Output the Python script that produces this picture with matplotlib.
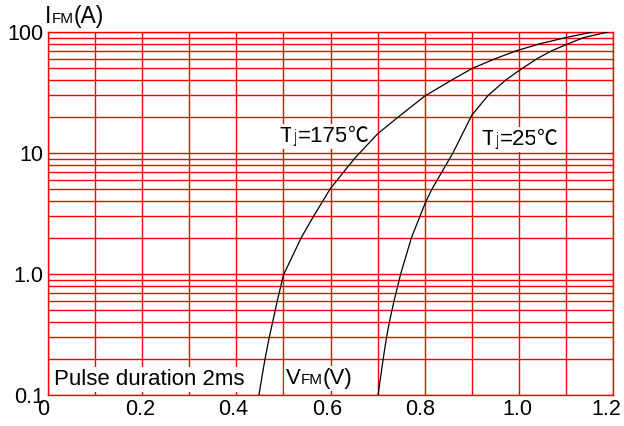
"""
Forward characteristic chart: IFM vs VFM at two junction temperatures.
"""

import matplotlib
matplotlib.use("Agg")
import matplotlib.pyplot as plt
import matplotlib.transforms as mtransforms
import numpy as np
from matplotlib.ticker import LogLocator, NullFormatter


W, H, DPI = 624, 426, 100
FONT = ["Liberation Sans", "Noto Sans CJK SC", "DejaVu Sans"]
CJK = ["Noto Sans CJK SC", "DejaVu Sans"]
GRID_RED = "#ff0000"

# curve, Tj = 175 C
v_175 = [0.448, 0.461, 0.470, 0.481, 0.487, 0.500, 0.538, 0.564, 0.600,
         0.652, 0.668, 0.700, 0.745, 0.800, 0.857, 0.901, 0.949, 0.995,
         1.045, 1.100, 1.157]
i_175 = [0.1, 0.2, 0.3, 0.47, 0.6, 0.98, 2.0, 3.0, 5.1,
         9.1, 10.6, 14.4, 20.0, 29.5, 40.0, 50.0, 60.0, 70.0,
         80.0, 90.0, 100.0]

# curve, Tj = 25 C
v_25 = [0.701, 0.712, 0.719, 0.725, 0.735, 0.749, 0.772, 0.790, 0.801,
        0.815, 0.860, 0.900, 0.935, 0.972, 0.998, 1.038, 1.070, 1.100,
        1.138, 1.190]
i_25 = [0.1, 0.2, 0.3, 0.4, 0.6, 1.0, 2.0, 3.0, 3.84,
        5.0, 10.0, 20.5, 30.0, 40.0, 47.3, 60.0, 70.0, 78.5,
        90.0, 100.0]

x_ticks = [0, 0.2, 0.4, 0.6, 0.8, 1.0, 1.2]
x_labels = ["0", "0.2", "0.4", "0.6", "0.8", "1.0", "1.2"]
x_minor = [0.1, 0.3, 0.5, 0.7, 0.9, 1.1]
y_ticks = [0.1, 1, 10, 100]
y_labels = ["0.1", "1.0", "10", "100"]

# small sideways nudges of the x tick labels, in pixels
x_label_shift = [-4.5, -2, -3, -3.5, -4.5, -1, -7]


def rich_text(ax, renderer, x_px, y_px, parts, box=False):
    """
    Put a run of text pieces side by side on one baseline (pixel coords).
    """
    fig = ax.figure
    for s, size, fam in parts:
        kw = {}
        if box:
            kw["bbox"] = dict(facecolor="white", edgecolor="none", pad=1.5)
        t = ax.text(
            x_px / W,
            1 - y_px / H,
            s,
            fontsize=size,
            family=fam,
            ha="left",
            va="baseline",
            transform=fig.transFigure,
            clip_on=False,
            zorder=3,
            **kw,
        )
        x_px += t.get_window_extent(renderer).width


fig = plt.figure(figsize=(W / DPI, H / DPI), dpi=DPI)
ax = fig.add_axes([48 / W, 1 - 395 / H, (613 - 48) / W, (395 - 32) / H])

ax.plot(v_175, i_175, color="black", lw=0.9, zorder=4)
ax.plot(v_25, i_25, color="black", lw=0.9, zorder=4)

ax.set_yscale("log")
ax.set_xlim(0, 1.2)
ax.set_ylim(0.1, 100)

ax.set_xticks(x_ticks)
ax.set_xticklabels(x_labels)
ax.set_xticks(x_minor, minor=True)
ax.set_yticks(y_ticks)
ax.set_yticklabels(y_labels)
ax.yaxis.set_minor_locator(LogLocator(base=10, subs=np.arange(2, 10)))
ax.yaxis.set_minor_formatter(NullFormatter())

ax.tick_params(which="both", length=0)
ax.tick_params(axis="x", pad=3)
ax.tick_params(axis="y", pad=3)

for lab in ax.get_xticklabels() + ax.get_yticklabels():
    lab.set_family(FONT)
    lab.set_fontsize(15.5)

# nudge after tick_params, which would reset the label transforms
for lab, dx in zip(ax.get_xticklabels(), x_label_shift):
    shift = mtransforms.ScaledTranslation(dx / DPI, 0, fig.dpi_scale_trans)
    lab.set_transform(lab.get_transform() + shift)

ax.grid(True, which="both", color=GRID_RED, lw=1.0)
ax.set_axisbelow(True)
for sp in ax.spines.values():
    sp.set_color(GRID_RED)
    sp.set_linewidth(1.0)

renderer = fig.canvas.get_renderer()

rich_text(ax, renderer, 45, 23,
          [("I", 16.5, FONT), ("FM", 11, FONT), ("(A)", 16.5, FONT)])
rich_text(ax, renderer, 286, 384,
          [("V", 16, FONT), ("FM", 11, FONT), ("(V)", 16, FONT)], box=True)
rich_text(ax, renderer, 54, 385,
          [("Pulse duration 2ms", 16, FONT)], box=True)
rich_text(ax, renderer, 280, 142,
          [("T", 16, FONT), ("j", 13, FONT), ("=175", 16, FONT),
           ("\u2103", 15, CJK)], box=True)
rich_text(ax, renderer, 482, 145,
          [("T", 16, FONT), ("j", 13, FONT), ("=25", 16, FONT),
           ("\u2103", 15, CJK)], box=True)

fig.savefig("out.png", dpi=DPI)
